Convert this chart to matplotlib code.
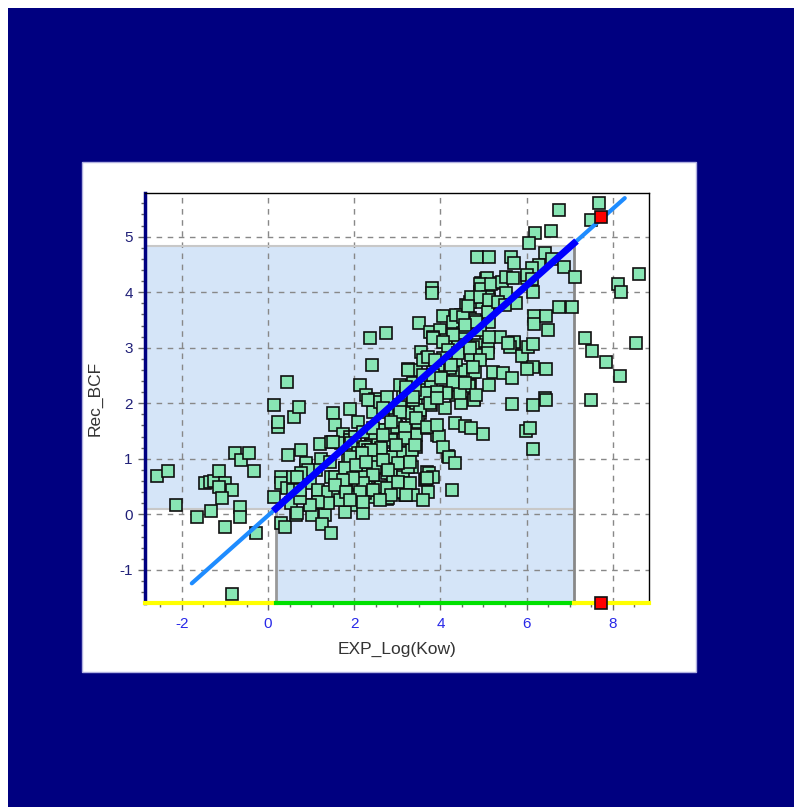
import numpy as np
import matplotlib
matplotlib.use("Agg")
import matplotlib.pyplot as plt
from matplotlib.patches import Rectangle

plt.rcParams['font.family'] = ['Liberation Sans', 'DejaVu Sans']
plt.rcParams['axes.unicode_minus'] = False

# training compounds: EXP_Log(Kow) vs Rec_BCF
kow = [
    -2.59, -2.33, -2.14, -1.66, -1.32, -0.99, -1.47, -1.35, -1.25, -1.14, -0.99, -1.14, -0.84, -1.07,
    -0.77, -0.63, -0.44, -0.32, -0.66, -0.66, -0.29, -0.83,
    0.13, 0.22, 0.23, 0.60, 0.72, 0.43, 0.46, 0.76, 0.13, 0.29, 0.39, 0.65, 0.30, 0.30, 0.43, 0.54,
    0.70, 0.58, 0.81, 0.89, 0.97, 0.97, 0.66, 1.01,
    2.13, 2.28, 2.48, 1.90, 2.09, 1.51, 1.55, 1.73, 1.70, 1.20, 1.47, 1.24, 1.11, 1.32, 1.26, 1.47,
    1.39, 1.16, 1.62, 1.66, 1.90, 1.82, 1.55, 2.01, 1.78, 2.20, 2.13, 2.28, 2.44, 2.75, 2.59, 2.90,
    3.13, 3.21, 3.33, 3.02, 3.06, 2.75, 2.55, 2.44, 2.28, 2.13, 1.97, 1.90, 2.44, 2.67, 2.94, 2.98,
    3.17, 3.33, 3.44, 3.68, 3.52, 3.29, 3.44, 3.06, 3.13, 3.44, 3.52, 3.06, 2.98, 2.75, 2.44, 2.75,
    3.21, 3.64, 3.68, 2.86, 2.20, 2.05,
    2.36, 2.73, 2.42, 3.50, 4.06, 3.75, 3.98, 4.10, 3.56, 3.68, 3.25, 3.44, 2.67, 3.21, 3.60, 3.79,
    3.91, 4.10, 3.79, 3.52, 3.36, 4.37, 4.14, 4.33, 4.56, 4.76, 4.68, 4.49, 4.77, 3.91, 3.48, 3.44,
    3.17, 4.18, 2.98, 2.59, 2.40, 3.06, 2.71, 1.90, 2.13, 2.28,
    4.60, 4.91, 5.14, 4.68, 4.49, 5.07, 4.84, 4.60, 4.53, 4.29, 5.14, 4.33, 4.53, 4.72, 5.07, 4.37,
    4.19, 4.10, 3.83,
    4.95, 5.07, 5.26, 4.68, 4.37, 3.83, 3.60, 3.71, 4.14, 4.41, 4.52, 4.56, 4.80, 5.11, 4.91, 4.76,
    5.11, 4.91, 5.72, 4.56, 4.33, 4.14, 3.83, 3.37, 4.06, 3.98, 4.22, 6.42, 6.00, 5.76, 5.38, 5.14,
    4.91, 4.72,
    6.75, 6.19, 6.56, 6.06, 4.86, 5.14, 5.63, 5.71, 6.44, 6.58, 6.30, 6.13, 6.87, 5.08, 4.91, 4.95,
    5.18, 5.42, 5.53, 5.68, 5.53, 5.10, 4.91, 3.81, 3.81, 6.15, 6.02, 6.13, 6.17, 6.17, 6.46, 6.50,
    5.38, 5.72, 5.61, 5.90, 6.03, 6.15, 5.22, 5.45, 5.67, 5.14, 4.80, 4.66, 4.77, 4.45, 6.15, 6.46,
    6.00, 5.67, 6.15, 6.46, 6.75, 7.05, 7.13,
    7.68, 7.49, 8.61, 8.12, 8.20, 7.35, 7.53, 7.84, 8.16, 8.53, 7.49,
    5.98, 6.09, 6.15, 5.00, 4.35, 4.56, 4.72, 3.97, 4.05, 4.20, 4.35, 3.74, 3.83, 3.66, 3.71, 4.26,
    3.13, 3.13,
    2.01, 2.40, 2.63, 2.71, 2.94, 3.17, 3.13, 2.86, 2.55, 2.24, 3.09, 3.02, 3.25, 3.33, 0.89, 0.93,
    0.77, 0.58, 1.47, 1.78, 1.86, 2.17, 2.48, 2.32,
    1.16, 1.39, 1.62, 1.78, 2.09, 2.44, 2.75, 2.90, 3.13, 3.17, 2.78, 2.48, 2.24, 1.93, 1.66, 1.39,
    1.16, 0.97, 0.74, 0.74, 0.66, 1.55, 1.82, 2.17, 2.63, 2.94, 3.36, 1.93, 2.40, 2.86, 2.48, 2.09,
    3.83, 4.53, 4.64, 5.14, 5.34, 5.49, 4.83, 4.56, 4.29, 4.06, 4.18, 4.06, 4.41, 4.68, 5.14, 5.57,
    5.10, 4.91, 4.76, 4.25, 3.87, 3.25, 3.60, 3.83, 4.02, 4.29, 4.56, 4.14, 3.91, 3.64, 3.40, 3.21,
    4.83,
    2.32, 2.59, 2.75, 3.36, 3.75, 3.91, 2.67, 3.06, 2.20, 2.44, 2.86, 3.44, 3.68, 3.91, 2.67, 3.17,
    3.40, 2.98, 2.63, 2.40, 2.17, 1.90, 1.51, 1.43, 1.78, 2.05, 2.28, 2.67, 3.02, 3.29, 2.78, 2.44,
    2.20, 1.97, 1.74, 1.55, 1.82, 2.13, 2.44, 2.75, 3.02, 3.29, 2.86, 3.21, 3.68, 3.60, 2.59, 2.20,
    1.90,
]
bcf = [
    0.69, 0.78, 0.17, -0.05, 0.06, -0.22, 0.57, 0.58, 0.60, 0.78, 0.57, 0.50, 0.44, 0.29,
    1.10, 0.98, 1.10, 0.78, 0.14, -0.04, -0.34, -1.44,
    1.96, 1.58, 1.67, 1.76, 1.94, 2.39, 1.07, 1.16, 0.32, -0.16, -0.22, -0.01, 0.68, 0.56, 0.47, 0.20,
    0.59, 0.44, 0.68, 0.87, 0.56, 0.17, 0.02, -0.01,
    2.33, 2.15, 2.07, 1.89, 1.67, 1.82, 1.61, 1.45, 1.28, 1.27, 1.31, 1.00, 0.80, -0.01, -0.17, -0.33,
    0.38, 0.38, 0.44, 0.27, 0.62, 0.83, 0.65, 0.17, 0.05, 0.02, 0.41, 0.56, 0.32, 0.27, 0.47, 0.50,
    0.47, 0.35, 0.86, 0.95, 1.16, 1.01, 0.83, 1.01, 1.16, 0.98, 1.16, 1.40, 1.40, 1.52, 1.40, 1.58,
    1.55, 1.70, 1.43, 1.55, 1.82, 1.82, 2.00, 1.97, 2.15, 2.18, 2.36, 2.33, 1.76, 1.85, 1.85, 1.31,
    1.25, 0.62, 0.77, 0.74, 0.80, 0.71,
    3.17, 3.26, 2.69, 3.45, 3.57, 3.29, 3.32, 3.11, 2.93, 2.81, 2.61, 2.60, 2.00, 2.18, 2.24, 2.39,
    2.18, 1.91, 1.97, 1.88, 2.06, 2.15, 2.48, 2.54, 2.60, 2.57, 2.33, 2.00, 2.08, 1.43, 1.67, 1.22,
    1.40, 1.05, 1.22, 1.19, 1.39, 1.04, 1.04, 1.34, 1.22, 1.10,
    3.77, 3.83, 3.68, 3.53, 3.59, 3.17, 3.05, 3.26, 3.44, 3.47, 3.47, 3.05, 3.00, 2.87, 2.90, 2.78,
    2.90, 2.66, 2.72,
    4.16, 4.23, 4.16, 3.83, 3.59, 3.20, 2.78, 2.84, 3.14, 3.08, 3.26, 3.38, 3.50, 3.65, 3.32, 3.02,
    3.02, 2.87, 3.08, 2.33, 2.33, 2.21, 2.18, 2.36, 2.54, 2.69, 2.63, 2.09, 4.25, 3.80, 3.80, 3.98,
    4.01, 3.92,
    5.48, 5.07, 5.10, 4.88, 4.64, 4.64, 4.64, 4.52, 4.70, 4.59, 4.49, 4.43, 4.46, 4.25, 4.15, 4.05,
    4.15, 4.19, 4.28, 4.25, 3.98, 3.92, 3.92, 4.07, 3.98, 4.01, 4.31, 4.23, 3.58, 3.42, 3.58, 3.32,
    3.20, 3.11, 3.02, 2.85, 3.02, 3.06, 2.57, 2.54, 2.45, 2.33, 2.57, 2.32, 2.06, 2.18, 2.65, 2.62,
    2.62, 1.98, 1.96, 2.05, 3.74, 3.74, 4.27,
    5.60, 5.30, 4.32, 4.15, 4.00, 3.17, 2.94, 2.74, 2.50, 3.08, 2.05,
    1.50, 1.55, 1.17, 1.44, 1.64, 1.59, 1.55, 1.41, 1.22, 1.04, 0.92, 0.74, 0.67, 0.63, 0.41, 0.44,
    0.50, 0.68,
    1.40, 1.46, 1.17, 1.52, 1.70, 1.55, 1.34, 1.34, 1.34, 1.22, 1.10, 0.92, 0.86, 1.16, 0.92, 0.80,
    0.74, 0.68, 0.68, 0.83, 0.98, 0.95, 1.01, 1.16,
    0.44, 0.41, 0.41, 0.50, 0.56, 0.71, 0.74, 0.59, 0.56, 0.35, 0.29, 0.44, 0.38, 0.32, 0.26, 0.20,
    0.23, 0.17, 0.29, 0.44, 0.68, 0.68, 0.68, 0.68, 0.50, 0.41, 0.35, 1.28, 1.46, 1.03, 0.86, 1.10,
    3.17, 3.56, 3.75, 3.86, 3.83, 3.77, 3.47, 3.41, 3.23, 3.11, 2.96, 2.81, 2.90, 2.99, 3.20, 3.08,
    2.90, 2.78, 2.66, 2.69, 2.78, 2.60, 2.51, 2.51, 2.45, 2.39, 2.36, 2.18, 2.21, 2.18, 2.24, 2.30,
    2.15,
    2.06, 2.03, 2.12, 2.12, 2.00, 2.09, 1.91, 1.85, 1.49, 1.55, 1.67, 1.73, 1.58, 1.61, 1.43, 1.37,
    1.25, 1.25, 1.19, 1.16, 1.10, 1.04, 1.31, 0.95, 0.83, 0.89, 0.95, 0.98, 0.92, 0.95, 0.80, 0.71,
    0.56, 0.65, 0.62, 0.53, 0.41, 0.41, 0.44, 0.47, 0.59, 0.56, 0.35, 0.35, 0.65, 0.26, 0.26, 0.23,
    0.26,
]

# highlighted compound
sel_kow = 7.73
sel_bcf = 5.35

# fit line and applicability domain
fit_slope = 0.69
fit_icpt = -0.02
fit_x = [-1.77, 8.28]
dom_x = [0.18, 7.1]
dom_y = [0.1, 4.84]

xlim = (-2.85, 8.85)
ylim = (-1.59, 5.78)

W, H = 794, 807
fig = plt.figure(figsize=(W / 100, H / 100), dpi=100)
fig.patch.set_facecolor('white')
# navy frame and white panel behind the chart
fig.patches.append(Rectangle((8 / W, 0), 1, (H - 8) / H, transform=fig.transFigure,
                             facecolor='#000080', edgecolor='none', zorder=-10))
fig.patches.append(Rectangle((82 / W, (H - 672) / H), 614 / W, 510 / H, transform=fig.transFigure,
                             facecolor='white', edgecolor='#B0B0E0', lw=1, zorder=-9))

ax = fig.add_axes([145.3 / W, (H - 602.7) / H, 504 / W, 409.4 / H])
ax.set_zorder(2)
ax.set_xlim(*xlim)
ax.set_ylim(*ylim)
ax.set_facecolor('white')

# domain shading
blue = '#D5E5F8'
ax.fill_between([xlim[0], dom_x[1]], dom_y[0], dom_y[1], color=blue, lw=0, zorder=0)
ax.fill_between([dom_x[0], dom_x[1]], ylim[0], dom_y[0], color=blue, lw=0, zorder=0)
ax.plot([xlim[0], dom_x[1]], [dom_y[1], dom_y[1]], color='#C8C8C8', lw=1.5, zorder=1)
ax.plot([xlim[0], dom_x[1]], [dom_y[0], dom_y[0]], color='#C8C8C8', lw=1.5, zorder=1)
ax.plot([dom_x[1], dom_x[1]], [ylim[0], dom_y[1]], color='#888888', lw=2, zorder=1)
ax.plot([dom_x[0], dom_x[0]], [ylim[0], dom_y[0]], color='#999999', lw=2, zorder=1)

ax.grid(True, which='major', color='#888888', ls=(0, (4, 4)), lw=1)
ax.set_axisbelow(True)

ax.set_xticks(np.arange(-2, 9, 2))
ax.set_xticks(np.arange(-2.5, 9, 0.5), minor=True)
ax.set_yticks(np.arange(-1, 6, 1))
ax.set_yticks(np.arange(-1.4, 5.8, 0.2), minor=True)
ax.tick_params(axis='x', which='both', direction='out', colors='#666666', labelcolor='#2828E8',
               labelsize=11, pad=5)
ax.tick_params(axis='y', which='both', direction='out', colors='#666666', labelcolor='#202078',
               labelsize=11, pad=4)
ax.tick_params(which='major', length=5, width=1)
ax.tick_params(which='minor', length=3, width=1)

for s in ['top', 'right']:
    ax.spines[s].set_color('black')
    ax.spines[s].set_linewidth(1)
ax.spines['left'].set_color('#000080')
ax.spines['left'].set_linewidth(2.5)
ax.spines['bottom'].set_visible(False)

# coloured bottom axis: out of domain yellow, in domain green
ax.plot([xlim[0], dom_x[0]], [ylim[0], ylim[0]], color='#FFFF00', lw=3, clip_on=False, zorder=5)
ax.plot([dom_x[0], dom_x[1]], [ylim[0], ylim[0]], color='#00E000', lw=3, clip_on=False, zorder=5)
ax.plot([dom_x[1], xlim[1]], [ylim[0], ylim[0]], color='#FFFF00', lw=3, clip_on=False, zorder=5)

ax.plot(kow, bcf, 's', ms=8, mfc='#88E6B4', mec='#101010', mew=1.2, zorder=3)

fx = np.array(fit_x)
ax.plot(fx, fit_slope * fx + fit_icpt, color='#1E8CFF', lw=3, solid_capstyle='round', zorder=4)
dx = np.array(dom_x)
ax.plot(dx, fit_slope * dx + fit_icpt, color='#0000FF', lw=5, zorder=4)

ax.plot([sel_kow], [sel_bcf], 's', ms=8, mfc='#FF0000', mec='#101010', mew=1.2, zorder=6)
ax.plot([sel_kow], [ylim[0]], 's', ms=8, mfc='#FF0000', mec='#101010', mew=1.2, zorder=7,
        clip_on=False)

ax.set_xlabel('EXP_Log(Kow)', fontsize=12.5, color='#333333', labelpad=8)
ax.set_ylabel('Rec_BCF', fontsize=12.5, color='#333333', labelpad=12)

fig.savefig('out.png', dpi=100, facecolor=fig.get_facecolor())
